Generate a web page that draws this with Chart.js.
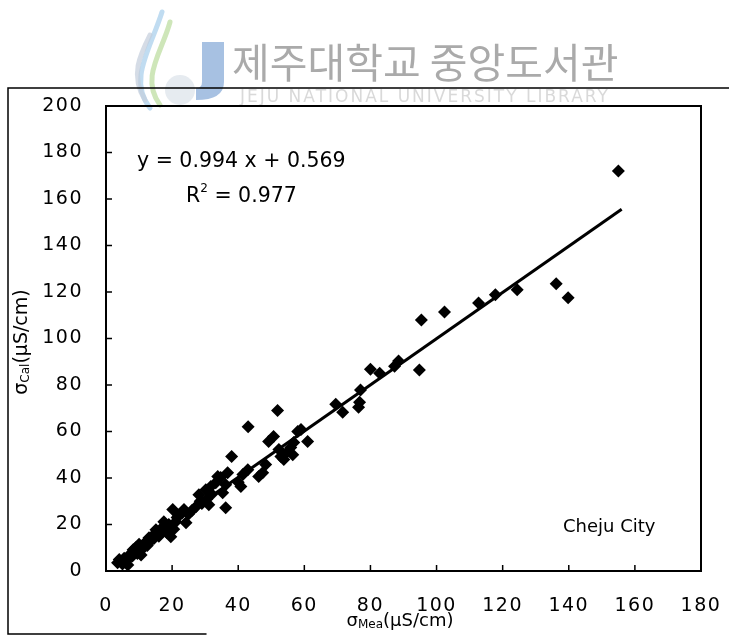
<!DOCTYPE html>
<html>
<head>
<meta charset="utf-8">
<script src="https://cdn.jsdelivr.net/npm/chart.js@4"></script>
<style>
html, body { margin: 0; padding: 0; background: #fff; }
#wrap { width: 729px; height: 636px; }
</style>
</head>
<body>
<div id="wrap"><canvas id="myChart" width="729" height="636"></canvas></div>
<script>
// measured vs calculated conductivity, µS/cm
var measured = [3.5, 4, 4.5, 5, 5.5, 6, 6.6, 7, 7.5, 8, 8.2, 8.5, 9, 9.5, 10, 10.6, 11, 11.5, 12, 12.5,
    13, 13.5, 14, 14.5, 15.1, 15.5, 16, 16.5, 17, 17.5, 18, 18.5, 19, 19.6, 20.2, 20.5, 21.1, 21.5, 22, 23,
    23.6, 24.2, 25, 26, 27.2, 28.1, 28.5, 29, 30.2, 30.5, 31.1, 31.7, 32, 33.2, 33.8, 34.7, 35.3, 36.2, 36.2, 36.8,
    38, 40, 40.8, 41.4, 42.9, 43, 46.2, 47.4, 48.3, 49.2, 50.7, 51.9, 52.3, 52.9, 53.8, 55, 55.9, 56.5, 56.8, 58,
    59, 61, 69.5, 71.6, 76.4, 76.7, 77, 80, 82.8, 87.3, 88.5, 94.8, 95.4, 102.4, 112.7, 117.8, 124.4, 136.2, 139.8, 155];
var calculated = [3.5, 5, 4, 3, 5.5, 4, 2.6, 6, 7.5, 6.5, 9.1, 8, 10, 7.5, 11.5, 6.9, 9.5, 11, 12.5, 11,
    14.3, 13, 15, 14, 17.7, 16, 15, 18, 17, 21.2, 19, 16.5, 20, 14.7, 26.4, 18, 21.2, 23, 24, 25,
    26.4, 20.7, 24.5, 26, 27.6, 32.8, 30, 29, 35, 31, 28.5, 36.3, 33, 38, 40.6, 40.2, 33.7, 27.2, 37.1, 42.3,
    49.2, 38.2, 36.3, 41.5, 43.6, 62, 40.6, 42.3, 45.8, 55.7, 57.9, 69, 52.3, 49.2, 48, 51.4, 53.1, 50, 55.3, 60,
    60.9, 55.7, 71.7, 68.3, 70.4, 72.6, 77.8, 86.8, 85.1, 88.1, 90.3, 86.4, 108, 111.4, 115.3, 118.8, 121, 123.5, 117.5, 172];

var xTicks = [0, 20, 40, 60, 80, 100, 120, 140, 160, 180];
var yTicks = [0, 20, 40, 60, 80, 100, 120, 140, 160, 180, 200];

// regression y = a x + b
var slope = 0.994;
var intercept = 0.569;
var rSquared = 0.977;
var fitX = [4, 156];

var siteName = 'Cheju City';
var libName = '제주대학교 중앙도서관';
var libNameEn = 'JEJU NATIONAL UNIVERSITY LIBRARY';

var FONT = "'DejaVu Sans', 'Liberation Sans', sans-serif";

var points = measured.map((x, i) => ({ x: x, y: calculated[i] }));
var fitLine = fitX.map((x) => ({ x: x, y: slope * x + intercept }));

// library stamp and outer frame, behind everything
var backdrop = {
    id: 'backdrop',
    beforeDraw(chart) {
        let c = chart.ctx;
        c.save();
        // logo strokes
        c.lineCap = 'round';
        c.lineWidth = 5;
        c.strokeStyle = 'rgba(165,205,235,0.7)';
        c.beginPath(); c.moveTo(150, 108); c.bezierCurveTo(128, 80, 150, 50, 162, 12); c.stroke();
        c.strokeStyle = 'rgba(185,220,155,0.7)';
        c.beginPath(); c.moveTo(160, 105); c.bezierCurveTo(140, 78, 162, 52, 170, 22); c.stroke();
        c.strokeStyle = 'rgba(195,205,220,0.7)';
        c.beginPath(); c.moveTo(145, 100); c.bezierCurveTo(130, 75, 140, 55, 150, 35); c.stroke();
        c.fillStyle = 'rgba(205,215,225,0.5)';
        c.beginPath(); c.arc(180, 90, 15, 0, Math.PI * 2); c.fill();
        c.fillStyle = 'rgba(120,160,210,0.65)';
        c.fillRect(202, 42, 22, 40);
        c.beginPath(); c.moveTo(224, 82); c.quadraticCurveTo(224, 100, 196, 100); c.lineTo(196, 88);
        c.quadraticCurveTo(202, 88, 202, 82); c.closePath(); c.fill();

        c.fillStyle = 'rgba(155,155,155,0.85)';
        c.font = "41px 'Noto Sans CJK KR'";
        c.textBaseline = 'middle';
        c.textAlign = 'left';
        c.fillText(libName, 232, 62);
        c.fillStyle = 'rgba(180,180,180,0.5)';
        c.font = '17px ' + FONT;
        c.letterSpacing = '2px';
        c.fillText(libNameEn, 240, 98);
        c.letterSpacing = '0px';

        // outer frame
        c.strokeStyle = '#000';
        c.lineWidth = 1.5;
        c.beginPath();
        c.moveTo(729, 88); c.lineTo(8, 88); c.lineTo(8, 634); c.lineTo(206, 634);
        c.stroke();
        c.restore();
        c.letterSpacing = '1.5px';
    }
};

// plot box and inward tick marks
var plotBox = {
    id: 'plotBox',
    beforeDatasetsDraw(chart) {
        let c = chart.ctx, a = chart.chartArea;
        let xs = chart.scales.x, ys = chart.scales.y;
        c.save();
        c.strokeStyle = '#000';
        c.lineWidth = 2;
        c.strokeRect(a.left, a.top, a.right - a.left, a.bottom - a.top);
        c.lineWidth = 1.5;
        c.beginPath();
        xTicks.forEach((v) => {
            let px = xs.getPixelForValue(v);
            c.moveTo(px, a.bottom); c.lineTo(px, a.bottom - 6);
        });
        yTicks.forEach((v) => {
            let py = ys.getPixelForValue(v);
            c.moveTo(a.left, py); c.lineTo(a.left + 6, py);
        });
        c.stroke();
        c.restore();
    }
};

function drawPieces(c, pieces, x, y) {
    pieces.forEach((p) => {
        c.font = p.size + 'px ' + FONT;
        c.fillText(p.t, x, y + (p.dy || 0));
        x += c.measureText(p.t).width;
    });
}

function piecesWidth(c, pieces) {
    let w = 0;
    pieces.forEach((p) => {
        c.font = p.size + 'px ' + FONT;
        w += c.measureText(p.t).width;
    });
    return w;
}

// equation, site name and axis titles
var notes = {
    id: 'notes',
    afterDraw(chart) {
        let c = chart.ctx;
        c.save();
        c.letterSpacing = '0px';
        c.fillStyle = '#000';
        c.textBaseline = 'middle';
        c.textAlign = 'left';

        c.font = '20.5px ' + FONT;
        c.fillText('y = ' + slope + ' x + ' + intercept, 137, 162);
        drawPieces(c, [
            { t: 'R', size: 20.5 },
            { t: '2', size: 12, dy: -8 },
            { t: ' = ' + rSquared, size: 20.5 }
        ], 186, 197);

        c.font = '18px ' + FONT;
        c.fillText(siteName, 563, 527);

        let xt = [
            { t: 'σ', size: 18 },
            { t: 'Mea', size: 12, dy: 4 },
            { t: '(µS/cm)', size: 18 }
        ];
        drawPieces(c, xt, 400 - piecesWidth(c, xt) / 2, 621);

        let yt = [
            { t: 'σ', size: 19 },
            { t: 'Cal', size: 12, dy: 4 },
            { t: '(µS/cm)', size: 19 }
        ];
        c.translate(22, 342);
        c.rotate(-Math.PI / 2);
        drawPieces(c, yt, -piecesWidth(c, yt) / 2, 0);
        c.restore();
    }
};

var ctx = document.getElementById('myChart');

var myChart = new Chart(ctx, {
    type: 'scatter',
    data: {
        datasets: [
            {
                label: 'data',
                data: points,
                pointStyle: 'rectRot',
                pointRadius: 6.5,
                backgroundColor: '#000',
                borderColor: '#000',
                borderWidth: 0
            },
            {
                label: 'fit',
                type: 'line',
                data: fitLine,
                borderColor: '#000',
                borderWidth: 3,
                pointRadius: 0,
                fill: false
            }
        ]
    },
    options: {
        responsive: false,
        animation: false,
        events: [],
        layout: { padding: { top: 106, right: 28, left: 0, bottom: 0 } },
        plugins: {
            legend: { display: false },
            tooltip: { enabled: false }
        },
        scales: {
            x: {
                type: 'linear',
                min: 0,
                max: 180,
                afterBuildTicks: (s) => { s.ticks = xTicks.map((v) => ({ value: v })); },
                afterFit: (s) => { s.height = 65; s.paddingLeft = 0; s.paddingRight = 0; },
                grid: { display: false, drawTicks: false },
                border: { display: false },
                ticks: {
                    color: '#000',
                    font: { family: FONT, size: 19 },
                    padding: 24,
                    maxRotation: 0,
                    autoSkip: false
                }
            },
            y: {
                type: 'linear',
                min: 0,
                max: 200,
                afterBuildTicks: (s) => { s.ticks = yTicks.map((v) => ({ value: v })); },
                afterFit: (s) => { s.width = 106; s.paddingTop = 0; s.paddingBottom = 0; },
                grid: { display: false, drawTicks: false },
                border: { display: false },
                ticks: {
                    color: '#000',
                    font: { family: FONT, size: 19 },
                    padding: 23,
                    autoSkip: false
                }
            }
        }
    },
    plugins: [backdrop, plotBox, notes]
});
</script>
</body>
</html>
